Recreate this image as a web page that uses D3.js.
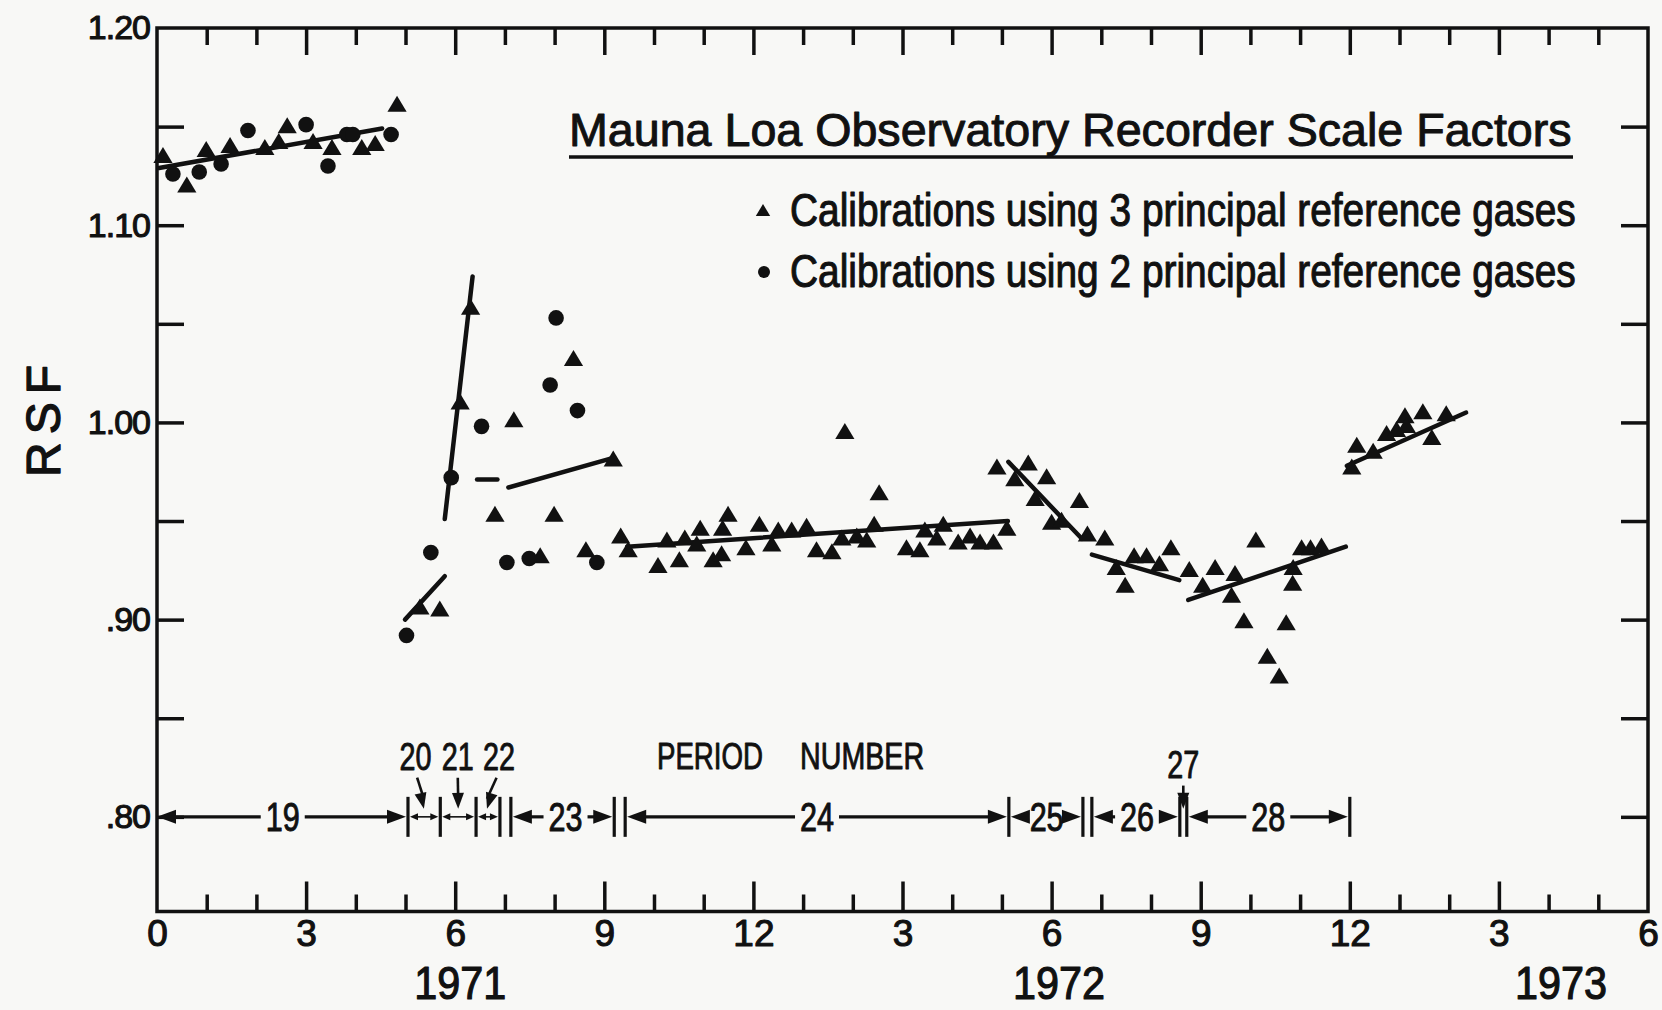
<!DOCTYPE html>
<html><head><meta charset="utf-8">
<script src="https://cdn.jsdelivr.net/npm/d3@7"></script>
<style>
html,body{margin:0;padding:0;background:#f8f8f6;}
svg{display:block;}
</style></head><body>
<svg id="c" width="1662" height="1010"></svg>
<script>
// ---------------- data ----------------
const xTickValues = [0,3,6,9,12,15,18,21,24,27,30];
const xTickLabels = ["0","3","6","9","12","3","6","9","12","3","6"];
const yTickValues = [1.20,1.10,1.00,0.90,0.80];
const yTickLabels = ["1.20","1.10","1.00",".90",".80"];
const yMinorTicks = [0.80,0.85,0.90,0.95,1.00,1.05,1.10,1.15];
const yearLabels = ["1971","1972","1973"];
const yearMonths = [6.1,18.15,28.25];

// triangles: calibrations using 3 principal reference gases (month since Jan 1971, RSF)
const triMonths = [
 0.12,0.60,0.99,1.47,2.17,2.45,2.62,3.14,3.52,4.12,4.39,4.83,
 5.29,5.69,6.10,6.31,6.80,7.18,7.71,7.99,8.38,8.63,9.18,
 9.33,9.48,10.08,10.26,10.51,10.62,10.86,10.93,11.19,11.36,11.38,11.49,11.85,12.12,12.37,12.50,12.77,13.07,13.27,13.58,13.78,13.84,14.08,14.28,14.43,14.53,15.08,15.35,15.45,15.69,15.82,16.12,16.36,16.56,16.83,17.10,
 16.90,17.26,17.53,17.67,17.90,18.00,18.20,18.56,18.72,19.07,
 19.30,19.48,19.66,19.91,20.17,20.40,20.77,
 21.04,21.29,21.62,21.69,21.87,22.11,22.34,22.58,22.72,22.85,22.86,23.03,23.21,23.43,
 24.04,24.14,24.47,24.74,24.94,25.11,25.14,25.47,25.65,25.94];
const triValues = [
 1.135,1.120,1.138,1.140,1.139,1.142,1.150,1.142,1.139,1.139,1.141,1.161,
 0.906,0.905,1.010,1.058,0.953,1.001,0.932,0.953,1.032,0.935,0.981,
 0.942,0.935,0.927,0.940,0.930,0.941,0.938,0.946,0.930,0.933,0.946,0.953,0.936,0.948,0.938,0.945,0.945,0.947,0.935,0.934,0.941,0.995,0.942,0.940,0.948,0.964,0.936,0.935,0.945,0.941,0.948,0.939,0.942,0.939,0.939,0.946,
 0.977,0.971,0.979,0.961,0.972,0.949,0.950,0.960,0.943,0.941,
 0.926,0.917,0.932,0.932,0.928,0.936,0.925,
 0.917,0.926,0.912,0.923,0.899,0.940,0.881,0.871,0.898,0.918,0.926,0.936,0.936,0.937,
 0.977,0.988,0.985,0.994,0.996,1.003,0.998,1.005,0.992,1.004];

// dots: calibrations using 2 principal reference gases
const dotMonths = [0.32,0.85,1.29,1.83,3.00,3.44,3.82,3.94,4.71,5.02,5.51,5.92,6.53,7.04,7.49,7.91,8.03,8.46,8.85];
const dotValues = [1.126,1.127,1.131,1.148,1.151,1.130,1.146,1.146,1.146,0.892,0.934,0.972,0.998,0.929,0.931,1.019,1.053,1.006,0.929];

// fitted lines per period: [startMonth, startRSF, endMonth, endRSF]
const fitPeriods = ["19","20","21","22","23","24","25","26","28","29"];
const fitStartMonth = [0.04,4.99,5.79,6.44,7.07,9.46,17.13,18.81,20.75,23.94];
const fitStartValue = [1.129,0.900,0.951,0.971,0.967,0.937,0.980,0.933,0.910,0.978];
const fitEndMonth   = [4.53,5.79,6.35,6.85,9.18,17.12,18.61,20.57,23.92,26.34];
const fitEndValue   = [1.149,0.922,1.074,0.971,0.982,0.950,0.941,0.920,0.937,1.005];

// period number brackets
const periodLabels = ["19","20","21","22","23","24","25","26","27","28"];
const periodStart  = [0,5.05,5.70,6.42,7.12,9.42,17.14,18.81,20.58,20.72];
const periodEnd    = [5.05,5.70,6.42,6.90,9.20,17.14,18.63,20.58,20.72,24.0];
const periodBars   = [5.05,5.70,6.42,6.90,7.12,9.20,9.42,17.14,18.63,18.81,20.58,20.72,24.0];

// ---------------- drawing ----------------
const INK = "#111";
const svg = d3.select("#c");
const x = d3.scaleLinear().domain([0,30]).range([157,1648]);
const y = d3.scaleLinear().domain([0.752,1.20]).range([911.5,28]);
const x0 = x.range()[0], x1 = x.range()[1], yTop = y(1.20), yBot = y.range()[0];
const baseFont = "'Liberation Sans', Arial, sans-serif";
const narrowFont = "'Liberation Sans Narrow','Arial Narrow','Liberation Sans',sans-serif";
function heavy(sel, w){ return sel.attr("stroke",INK).attr("stroke-width",w).attr("stroke-linejoin","round"); }
// place a text starting at (tx,ty) and stretch it horizontally to a target width
function fitText(parent, str, tx, ty, width, font, size, w){
  const g = parent.append("g");
  const t = g.append("text").attr("x",0).attr("y",0).attr("font-family",font).attr("font-size",size)
    .attr("fill",INK).text(str).call(heavy,w);
  const nat = t.node().getComputedTextLength();
  g.attr("transform",`translate(${tx},${ty}) scale(${width/nat},1)`);
  return t;
}

// ticks via axes
const monthsAll = d3.range(1,30);
const majorM = monthsAll.filter(m => m % 3 === 0);
const minorM = monthsAll.filter(m => m % 3 !== 0);
function styleAxis(g){ g.select(".domain").remove(); g.selectAll("line").attr("stroke",INK).attr("stroke-width",3.5); }
svg.append("g").attr("transform",`translate(0,${yBot})`).call(d3.axisBottom(x).tickValues(minorM).tickSizeInner(-17).tickSizeOuter(0).tickFormat("")).call(styleAxis);
svg.append("g").attr("transform",`translate(0,${yBot})`).call(d3.axisBottom(x).tickValues(majorM).tickSizeInner(-30).tickSizeOuter(0).tickFormat("")).call(styleAxis);
svg.append("g").attr("transform",`translate(0,${yTop})`).call(d3.axisTop(x).tickValues(minorM).tickSizeInner(-17).tickSizeOuter(0).tickFormat("")).call(styleAxis);
svg.append("g").attr("transform",`translate(0,${yTop})`).call(d3.axisTop(x).tickValues(majorM).tickSizeInner(-27).tickSizeOuter(0).tickFormat("")).call(styleAxis);
svg.append("g").attr("transform",`translate(${x0},0)`).call(d3.axisLeft(y).tickValues(yMinorTicks).tickSizeInner(-27).tickSizeOuter(0).tickFormat("")).call(styleAxis);
svg.append("g").attr("transform",`translate(${x1},0)`).call(d3.axisRight(y).tickValues(yMinorTicks).tickSizeInner(-27).tickSizeOuter(0).tickFormat("")).call(styleAxis);

// tick labels
const xl = svg.append("g").attr("transform",`translate(0,${yBot})`)
  .call(d3.axisBottom(x).tickValues(xTickValues).tickSize(0).tickPadding(8).tickFormat((d,i)=>xTickLabels[i]));
xl.select(".domain").remove();
xl.selectAll("text").attr("font-family",baseFont).attr("font-size",37).attr("fill",INK).call(heavy,1.1);
const yl = svg.append("g").attr("transform",`translate(${x0},0)`)
  .call(d3.axisLeft(y).tickValues(yTickValues).tickSize(0).tickPadding(7).tickFormat((d,i)=>yTickLabels[i]));
yl.select(".domain").remove();
yl.selectAll("text").attr("font-family",baseFont).attr("font-size",34).attr("fill",INK).attr("letter-spacing",-1).call(heavy,1.1);

// frame
svg.append("rect").attr("x",x0).attr("y",yTop).attr("width",x1-x0).attr("height",yBot-yTop)
  .attr("fill","none").attr("stroke",INK).attr("stroke-width",3.5);

// year labels
svg.append("g").selectAll("text").data(yearLabels).join("text")
  .attr("x",(d,i)=>x(yearMonths[i])).attr("y",999)
  .attr("text-anchor","middle").attr("font-family",baseFont).attr("font-size",47)
  .attr("textLength",92).attr("lengthAdjust","spacingAndGlyphs").attr("fill",INK).text(d=>d).call(heavy,1.2);

// y axis title
svg.append("text").attr("transform","translate(60,421) rotate(-90)")
  .attr("text-anchor","middle").attr("font-family",baseFont).attr("font-size",48)
  .attr("textLength",112).attr("lengthAdjust","spacing").attr("fill",INK).text("RSF").call(heavy,1.3);

// fitted lines
svg.append("g").selectAll("line").data(fitPeriods).join("line")
  .attr("x1",(d,i)=>x(fitStartMonth[i])).attr("y1",(d,i)=>y(fitStartValue[i]))
  .attr("x2",(d,i)=>x(fitEndMonth[i])).attr("y2",(d,i)=>y(fitEndValue[i]))
  .attr("stroke",INK).attr("stroke-width",4.5).attr("stroke-linecap","round");

// markers
const triPath = (cx,cy,h) => `M${cx},${cy-h*0.58}L${cx+h*0.6},${cy+h*0.42}L${cx-h*0.6},${cy+h*0.42}Z`;
svg.append("g").selectAll("path").data(triMonths).join("path")
  .attr("d",(d,i)=>triPath(x(d),y(triValues[i]),16)).attr("fill",INK);
svg.append("g").selectAll("circle").data(dotMonths).join("circle")
  .attr("cx",d=>x(d)).attr("cy",(d,i)=>y(dotValues[i])).attr("r",7.8).attr("fill",INK);

// title + legend
fitText(svg, "Mauna Loa Observatory Recorder Scale Factors", 569, 146, 1003, baseFont, 47, 1.0);
svg.append("line").attr("x1",569).attr("x2",1573).attr("y1",157).attr("y2",157).attr("stroke",INK).attr("stroke-width",3.5);
const legendItems = ["Calibrations using 3 principal reference gases","Calibrations using 2 principal reference gases"];
const legendY = [226,287];
legendItems.forEach((s,i)=> fitText(svg, s, 790, legendY[i], 786, narrowFont, 46, 1.1));
svg.append("path").attr("d",triPath(763,211,12)).attr("fill",INK);
svg.append("circle").attr("cx",764).attr("cy",272).attr("r",6).attr("fill",INK);

// ---------------- period number annotation ----------------
const py = y(0.80);
const pg = svg.append("g");
function arrowHead(tipX, tipY, dir, len, half){ // dir: -1 left, 1 right
  return `M${tipX},${tipY}L${tipX-dir*len},${tipY-half}L${tipX-dir*len},${tipY+half}Z`;
}
// bars
pg.selectAll("line.bar").data(periodBars).join("line").attr("class","bar")
  .attr("x1",d=>x(d)).attr("x2",d=>x(d)).attr("y1",py-20).attr("y2",py+20)
  .attr("stroke",INK).attr("stroke-width",3.2);
// big brackets with inline labels
const inlineLabelMonth = {"19":2.53,"23":8.22,"24":13.28,"25":17.9,"26":19.72,"28":22.36};
periodLabels.forEach((lab,i)=>{
  const a = x(periodStart[i]), b = x(periodEnd[i]);
  if (lab in inlineLabelMonth){
    const lx = x(inlineLabelMonth[lab]);
    pg.append("text").attr("x",lx).attr("y",py+14).attr("text-anchor","middle")
      .attr("font-family",narrowFont).attr("font-size",40).attr("textLength",34).attr("lengthAdjust","spacingAndGlyphs")
      .attr("fill",INK).text(lab).call(heavy,1.0);
    const gap = 17 + 5;
    const ax = a + (i===0 ? 0 : 2), bx = b - 2;
    pg.append("line").attr("x1",ax+10).attr("x2",lx-gap).attr("y1",py).attr("y2",py).attr("stroke",INK).attr("stroke-width",3.2);
    pg.append("line").attr("x1",lx+gap).attr("x2",bx-10).attr("y1",py).attr("y2",py).attr("stroke",INK).attr("stroke-width",3.2);
    pg.append("path").attr("d",arrowHead(ax,py,-1,19,7)).attr("fill",INK);
    pg.append("path").attr("d",arrowHead(bx,py,1,19,7)).attr("fill",INK);
  } else if (lab !== "27") {
    const ax = a + 2, bx = b - 2;
    pg.append("line").attr("x1",ax+4).attr("x2",bx-4).attr("y1",py).attr("y2",py).attr("stroke",INK).attr("stroke-width",1.6);
    pg.append("path").attr("d",arrowHead(ax,py,-1,8,3.5)).attr("fill",INK);
    pg.append("path").attr("d",arrowHead(bx,py,1,8,3.5)).attr("fill",INK);
  }
});
// pointer labels for short periods
const pointerLabels = ["20","21","22","27"];
const pointerLabelMonth = [5.2,6.05,6.88,20.65];
const pointerLabelValue = [0.831,0.831,0.831,0.827];
const pointerTipMonth = [5.37,6.06,6.64,20.65];
pointerLabels.forEach((lab,i)=>{
  const lx = x(pointerLabelMonth[i]), ly = y(pointerLabelValue[i]);
  pg.append("text").attr("x",lx).attr("y",ly+14).attr("text-anchor","middle")
    .attr("font-family",narrowFont).attr("font-size",38).attr("textLength",32).attr("lengthAdjust","spacingAndGlyphs")
    .attr("fill",INK).text(lab).call(heavy,0.9);
  const tx = x(pointerTipMonth[i]), ty = py - 8;
  const sx = lx + (tx-lx)*0.2, sy = ly + 22;
  pg.append("line").attr("x1",sx).attr("y1",sy).attr("x2",tx).attr("y2",ty-10).attr("stroke",INK).attr("stroke-width",2.6);
  const ang = Math.atan2(ty-sy, tx-sx);
  const len = 16, half = 6;
  const bx = tx - len*Math.cos(ang), by = ty - len*Math.sin(ang);
  const nx = -Math.sin(ang)*half, ny = Math.cos(ang)*half;
  pg.append("path").attr("d",`M${tx},${ty}L${bx+nx},${by+ny}L${bx-nx},${by-ny}Z`).attr("fill",INK);
});
// PERIOD NUMBER caption
pg.append("text").attr("x",x(10.06)).attr("y",y(0.831)+13).attr("font-family",narrowFont).attr("font-size",36)
  .attr("textLength",106).attr("lengthAdjust","spacingAndGlyphs").attr("fill",INK).text("PERIOD").call(heavy,0.9);
pg.append("text").attr("x",x(12.94)).attr("y",y(0.831)+13).attr("font-family",narrowFont).attr("font-size",36)
  .attr("textLength",124).attr("lengthAdjust","spacingAndGlyphs").attr("fill",INK).text("NUMBER").call(heavy,0.9);
</script>
</body></html>
